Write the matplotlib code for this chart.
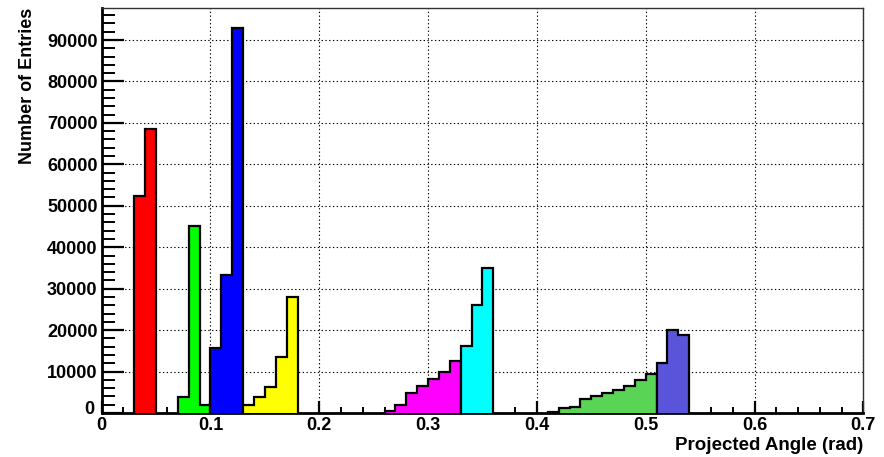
import numpy as np
import matplotlib.pyplot as plt
import matplotlib.transforms as mtransforms
from matplotlib.ticker import MultipleLocator

plt.rcParams['font.family'] = ['Liberation Sans', 'DejaVu Sans']
plt.rcParams['font.weight'] = 'bold'

# bin width of every histogram (rad)
bin_w = 0.01

# lower edge of the first bin and entries per bin, one histogram per colour
red_start, red_counts = 0.03, [52300, 68600]
green_start, green_counts = 0.07, [3900, 45100, 2000]
blue_start, blue_counts = 0.10, [15700, 33200, 93000]
yellow_start, yellow_counts = 0.13, [2000, 3800, 6300, 13400, 28100]
magenta_start, magenta_counts = 0.26, [600, 1900, 4900, 6600, 8100, 9800, 12500]
cyan_start, cyan_counts = 0.33, [16100, 26100, 35000]
green2_start, green2_counts = 0.41, [330, 1100, 1500, 3300, 4200, 4800, 5500, 6500, 7900, 9500]
violet_start, violet_counts = 0.51, [12000, 20000, 18800]

x_ticks = [0, 0.1, 0.2, 0.3, 0.4, 0.5, 0.6, 0.7]
x_labels = ['0', '0.1', '0.2', '0.3', '0.4', '0.5', '0.6', '0.7']
y_ticks = [0, 10000, 20000, 30000, 40000, 50000, 60000, 70000, 80000, 90000]

hists = [
    (red_start, red_counts, '#ff0000'),
    (green_start, green_counts, '#00ff00'),
    (blue_start, blue_counts, '#0000ff'),
    (yellow_start, yellow_counts, '#ffff00'),
    (magenta_start, magenta_counts, '#ff00ff'),
    (cyan_start, cyan_counts, '#00ffff'),
    (green2_start, green2_counts, '#59d454'),
    (violet_start, violet_counts, '#5954d9'),
]

fig = plt.figure(figsize=(8.84, 4.57), dpi=100)
ax = fig.add_subplot(111)
fig.subplots_adjust(left=0.115, right=0.9766, top=0.9818, bottom=0.0963)

for start, counts, col in hists:
    edges = np.round(start + bin_w * np.arange(len(counts) + 1), 3)
    ax.stairs(counts, edges, fill=True, facecolor=col, edgecolor='black',
              linewidth=1.6, zorder=3)

ax.set_xlim(0, 0.7)
ax.set_ylim(0, max(blue_counts) * 1.05)

ax.set_xticks(x_ticks)
ax.set_xticklabels(x_labels)
ax.set_yticks(y_ticks)
ax.set_yticklabels([str(v) for v in y_ticks])
ax.xaxis.set_minor_locator(MultipleLocator(0.02))
ax.yaxis.set_minor_locator(MultipleLocator(2000))

ax.grid(True, which='major', linestyle=(0, (1.2, 2.2)), color='black', linewidth=0.8, zorder=1)
ax.set_axisbelow(True)

ax.tick_params(axis='y', which='major', direction='in', length=16, width=1.6,
               labelsize=13, pad=3)
ax.tick_params(axis='y', which='minor', direction='in', length=9, width=1.4)
ax.tick_params(axis='x', which='major', direction='in', length=9, width=1.6,
               labelsize=13, pad=3)
ax.tick_params(axis='x', which='minor', direction='in', length=4.5, width=1.4)

# lift the y "0" a little so it sits beside the x "0"
zero_lbl = ax.get_yticklabels()[0]
zero_lbl.set_transform(zero_lbl.get_transform() +
                       mtransforms.ScaledTranslation(-2 / 72, 4 / 72, fig.dpi_scale_trans))

for side in ['left', 'bottom']:
    ax.spines[side].set_linewidth(2)
for side in ['top', 'right']:
    ax.spines[side].set_linewidth(1)
    ax.spines[side].set_color('#333333')

fig.text(28 / 884, 1 - 8 / 457, 'Number of Entries', rotation=90,
         ha='center', va='top', fontsize=13, fontweight='bold')
fig.text(863 / 884, 1 - 446 / 457, 'Projected Angle (rad)',
         ha='right', va='center', fontsize=13.5, fontweight='bold')

fig.savefig('out.png', dpi=100)
